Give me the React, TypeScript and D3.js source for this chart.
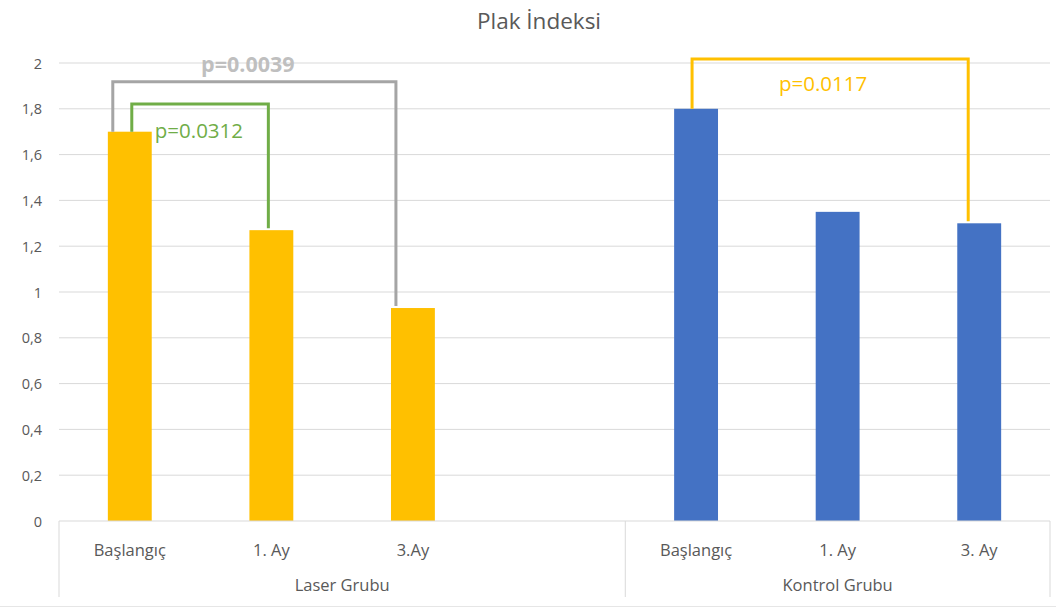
import React from "react";
import * as d3 from "d3";

const groups = ["Laser Grubu", "Kontrol Grubu"];
const categories = [
  { key: "L0", label: "Başlangıç", group: "Laser Grubu" },
  { key: "L1", label: "1. Ay", group: "Laser Grubu" },
  { key: "L3", label: "3.Ay", group: "Laser Grubu" },
  { key: "Lx", label: "", group: "Laser Grubu" },
  { key: "K0", label: "Başlangıç", group: "Kontrol Grubu" },
  { key: "K1", label: "1. Ay", group: "Kontrol Grubu" },
  { key: "K3", label: "3. Ay", group: "Kontrol Grubu" },
];
const values: (number | null)[] = [1.7, 1.27, 0.93, null, 1.8, 1.35, 1.3];
const barColors = ["#FFC000", "#FFC000", "#FFC000", "#FFC000", "#4472C4", "#4472C4", "#4472C4"];
const yTicks = [0, 0.2, 0.4, 0.6, 0.8, 1, 1.2, 1.4, 1.6, 1.8, 2];

const brackets = [
  { from: "L0", to: "L3", level: 1.918, text: "p=0.0039", color: "#A5A5A5", textColor: "#BFBFBF", textLevel: 2.0, dxFrom: -17, dxTo: -17, textDx: -6.5, bold: true, anchor: "middle" },
  { from: "L0", to: "L1", level: 1.821, text: "p=0.0312", color: "#70AD47", textColor: "#70AD47", textLevel: 1.707, dxFrom: 2, dxTo: -3, textDx: 23, bold: false, anchor: "start" },
  { from: "K0", to: "K3", level: 2.017, text: "p=0.0117", color: "#FFC000", textColor: "#FFC000", textLevel: 1.913, dxFrom: -4, dxTo: -11, textDx: -7, bold: false, anchor: "middle" },
];

const W = 1056;
const H = 608;
const left = 59;
const right = 1050;
const top = 63;
const bottom = 521;
const font = "'Open Sans', 'Noto Sans', sans-serif";
const grey = "#595959";

export default function App() {
  const x = d3.scaleBand<string>().domain(categories.map((c) => c.key)).range([left, right]).paddingInner(0).paddingOuter(0);
  const y = d3.scaleLinear().domain([0, 2]).range([bottom, top]);
  const bw = x.bandwidth();
  const barW = bw * 0.31;
  const center = (k: string) => (x(k) as number) + bw / 2;
  const valOf = (k: string) => values[categories.findIndex((c) => c.key === k)] as number;

  const groupSpans = groups.map((g) => {
    const cs = categories.filter((c) => c.group === g);
    const x0 = x(cs[0].key) as number;
    const x1 = (x(cs[cs.length - 1].key) as number) + bw;
    return { g, x0, x1 };
  });

  return (
    <div style={{ position: "fixed", left: 0, top: 0 }}>
      <svg width={W} height={H} style={{ display: "block", background: "#fff" }}>
        <text x={539} y={20} textAnchor="middle" dominantBaseline="central" fontFamily={font} fontSize={22.5} fill={grey}>
          Plak İndeksi
        </text>
        {yTicks.map((t) => (
          <g key={t}>
            {t !== 0 && <line x1={left} x2={right} y1={y(t)} y2={y(t)} stroke="#D9D9D9" strokeWidth={1} />}
            <text x={42} y={y(t)} textAnchor="end" dominantBaseline="central" fontFamily={font} fontSize={14.5} fill={grey}>
              {String(t).replace(".", ",")}
            </text>
          </g>
        ))}
        {categories.map((c, i) =>
          values[i] == null ? null : (
            <rect key={c.key} x={center(c.key) - barW / 2} y={y(values[i] as number)} width={barW} height={bottom - y(values[i] as number)} fill={barColors[i]} />
          )
        )}
        {/* category axis */}
        <line x1={left} x2={right} y1={bottom} y2={bottom} stroke="#D9D9D9" strokeWidth={1} />
        {[left, ...groupSpans.map((s) => s.x1)].map((xx, i) => (
          <line key={i} x1={xx} x2={xx} y1={bottom} y2={597} stroke="#D9D9D9" strokeWidth={1} />
        ))}
        {categories.map((c) => (
          <text key={c.key} x={center(c.key)} y={549} textAnchor="middle" dominantBaseline="central" fontFamily={font} fontSize={16.5} fill={grey}>
            {c.label}
          </text>
        ))}
        {groupSpans.map((s) => (
          <text key={s.g} x={(s.x0 + s.x1) / 2} y={584} textAnchor="middle" dominantBaseline="central" fontFamily={font} fontSize={16.5} fill={grey}>
            {s.g}
          </text>
        ))}
        <line x1={0} x2={W} y1={606.5} y2={606.5} stroke="#E6E6E6" strokeWidth={1} />
        {/* brackets */}
        {brackets.map((b) => {
          const xa = center(b.from) + b.dxFrom;
          const xb = center(b.to) + b.dxTo;
          const ya = y(valOf(b.from));
          const yb = y(valOf(b.to)) - 2;
          const yl = y(b.level);
          return (
            <g key={b.text}>
              <path d={`M${xa},${ya} V${yl} H${xb} V${yb}`} fill="none" stroke={b.color} strokeWidth={3} />
              <text
                x={b.anchor === "start" ? xa + b.textDx : (xa + xb) / 2 + b.textDx}
                y={y(b.textLevel)}
                textAnchor={b.anchor}
                dominantBaseline="central"
                fontFamily={font}
                fontSize={b.bold ? 21.5 : 20.5}
                fontWeight={b.bold ? "bold" : "normal"}
                fill={b.textColor}
              >
                {b.text}
              </text>
            </g>
          );
        })}
      </svg>
    </div>
  );
}
